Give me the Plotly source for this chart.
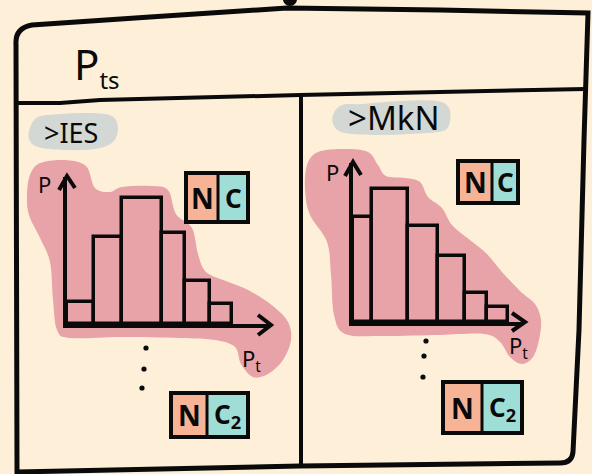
import plotly.graph_objects as go

# ---- data -------------------------------------------------------------
panel_names = [">IES", ">MkN"]
title_text = "P<sub><span style='font-size:24px'>ts</span></sub>"

# histogram bins (p_t) and heights (P) for each panel
bin_edges_ies = [0.0, 1.0, 2.05, 3.5, 4.35, 5.3, 6.1]
counts_ies = [1.1, 4.35, 6.3, 4.55, 2.15, 1.0]

bin_edges_mkn = [0.0, 0.7, 2.05, 3.15, 4.15, 4.95, 5.75]
counts_mkn = [5.25, 6.65, 4.8, 3.3, 1.45, 0.75]

box_top = ["N", "C"]
box_bottom = ["N", "C<sub>2</sub>"]

# ---- style ------------------------------------------------------------
W, H = 592, 474
CREAM = "#FEF0D8"
PINK = "#E8A3A9"
GREY = "#D3D8D5"
ORANGE = "#F6B395"
TEAL = "#9FDED6"
INK = "#0A0A0A"
FONT = "Noto Sans"


def smooth_path(pts):
    """Closed Catmull-Rom outline as an SVG cubic path."""
    n = len(pts)
    d = f"M{pts[0][0]},{pts[0][1]}"
    for i in range(n):
        p0, p1, p2, p3 = pts[(i - 1) % n], pts[i], pts[(i + 1) % n], pts[(i + 2) % n]
        c1 = (p1[0] + (p2[0] - p0[0]) / 6, p1[1] + (p2[1] - p0[1]) / 6)
        c2 = (p2[0] - (p3[0] - p1[0]) / 6, p2[1] - (p3[1] - p1[1]) / 6)
        d += f" C{c1[0]:.1f},{c1[1]:.1f} {c2[0]:.1f},{c2[1]:.1f} {p2[0]},{p2[1]}"
    return d + " Z"


def bars(edges, counts, xa, ya):
    centers = [(a + b) / 2 for a, b in zip(edges[:-1], edges[1:])]
    widths = [b - a for a, b in zip(edges[:-1], edges[1:])]
    return go.Bar(
        x=centers, y=counts, width=widths, base=0,
        marker=dict(color=PINK, line=dict(color=INK, width=3.5)),
        xaxis=xa, yaxis=ya, hoverinfo="skip", showlegend=False,
    )


fig = go.Figure()
# base sketch layer in pixel units
fig.add_trace(go.Scatter(x=[None], y=[None], xaxis="x", yaxis="y",
                         showlegend=False, hoverinfo="skip"))
fig.add_trace(bars(bin_edges_ies, counts_ies, "x2", "y2"))
fig.add_trace(bars(bin_edges_mkn, counts_mkn, "x3", "y3"))

hidden = dict(visible=False, fixedrange=True)
sub_axis = dict(showline=True, linecolor=INK, linewidth=4, showgrid=False,
                zeroline=False, showticklabels=False, ticks="", fixedrange=True)


def dom_x(a, b):
    return [a / W, b / W]


def dom_y(top, bottom):
    return [1 - bottom / H, 1 - top / H]


fig.update_layout(
    width=W, height=H, margin=dict(l=0, r=0, t=0, b=0),
    paper_bgcolor=CREAM, plot_bgcolor="rgba(0,0,0,0)",
    xaxis=dict(range=[0, W], domain=[0, 1], **hidden),
    yaxis=dict(range=[H, 0], domain=[0, 1], **hidden),
    xaxis2=dict(range=[0, 7.5], domain=dom_x(67, 270), anchor="y2", **sub_axis),
    yaxis2=dict(range=[0, 7.35], domain=dom_y(177, 324), anchor="x2", **sub_axis),
    xaxis3=dict(range=[0, 6.3], domain=dom_x(353, 523), anchor="y3", **sub_axis),
    yaxis3=dict(range=[0, 7.95], domain=dom_y(163, 322), anchor="x3", **sub_axis),
    bargap=0,
)

shapes = []


def px_shape(path, layer="above", fill=None, lw=0, color=INK):
    s = dict(type="path", path=path, xref="x", yref="y", layer=layer,
             line=dict(color=color, width=lw))
    s["fillcolor"] = fill if fill else "rgba(0,0,0,0)"
    if lw == 0:
        s["line"] = dict(width=0)
    return s


# pink halos behind the histograms
blob_ies = [(30, 175), (40, 163), (65, 160), (86, 166), (95, 188), (110, 192),
            (122, 187), (150, 186), (168, 190), (176, 214), (192, 228), (198, 254),
            (206, 272), (226, 281), (250, 291), (273, 306), (288, 322), (291, 340),
            (283, 360), (268, 374), (253, 377), (241, 364), (235, 347), (215, 340),
            (180, 338), (120, 337), (70, 338), (57, 330), (53, 300), (50, 262),
            (40, 238), (29, 215), (27, 195)]
blob_mkn = [(307, 165), (318, 152), (345, 149), (368, 152), (378, 165), (386, 176),
            (405, 178), (420, 182), (428, 197), (442, 208), (452, 225), (470, 240),
            (487, 254), (502, 272), (520, 291), (535, 304), (541, 320), (539, 340),
            (533, 357), (522, 364), (510, 357), (500, 342), (484, 334), (440, 335),
            (380, 336), (345, 334), (334, 315), (331, 275), (327, 242), (310, 215),
            (305, 190)]
shapes.append(px_shape(smooth_path(blob_ies), layer="below", fill=PINK))
shapes.append(px_shape(smooth_path(blob_mkn), layer="below", fill=PINK))

# grey tags behind panel names
pill_ies = [(30, 128), (38, 117), (60, 114), (90, 113), (112, 116), (118, 128),
            (113, 142), (95, 149), (65, 150), (38, 147), (29, 139)]
pill_mkn = [(333, 115), (342, 105), (362, 104), (400, 101), (437, 101), (449, 108),
            (450, 121), (443, 131), (410, 134), (377, 135), (345, 133), (334, 126)]
shapes.append(px_shape(smooth_path(pill_ies), fill=GREY))
shapes.append(px_shape(smooth_path(pill_mkn), fill=GREY))

# frame, header rule and panel divider
shapes.append(px_shape("M16,44 Q15,28 32,25 L150,17 L287,8 L440,10 L588,13 "
                       "L584,140 L579,330 L573,452 Q572,463 560,463 L300,466 L17,472 Z",
                       lw=5))
shapes.append(px_shape("M18,103 L60,103 L100,100 L300,95 L585,89", lw=4))
shapes.append(px_shape("M301,96 L301,466", lw=4))
# small knot on the top edge
shapes.append(dict(type="circle", xref="x", yref="y", x0=283, x1=297, y0=-7, y1=6,
                   fillcolor=INK, line=dict(width=0), layer="above"))

# arrow heads on the histogram axes
for p in ["M59,190 L67,176 L75,188", "M258,315 L271,325 L258,335",
          "M345,176 L353,162 L361,175", "M512,313 L525,322 L512,331"]:
    shapes.append(px_shape(p, lw=4))

# ellipsis dots between the rows of boxes
for cx, cy in [(146, 348), (144, 369), (142, 388), (426, 341), (424, 356), (423, 377)]:
    shapes.append(dict(type="circle", xref="x", yref="y", x0=cx - 2.6, x1=cx + 2.6,
                       y0=cy - 2.6, y1=cy + 2.6, fillcolor=INK, line=dict(width=0)))

annotations = []


def label(x, y, text, size, bold=False, xanchor="center"):
    annotations.append(dict(x=x, y=y, xref="x", yref="y", text=text, showarrow=False,
                            xanchor=xanchor, yanchor="middle",
                            font=dict(family=FONT, size=size, color=INK,
                                      weight="bold" if bold else "normal")))


def nc_box(x0, xm, x1, y0, y1, texts):
    shapes.append(dict(type="rect", xref="x", yref="y", x0=x0, x1=xm, y0=y0, y1=y1,
                       fillcolor=ORANGE, line=dict(width=0)))
    shapes.append(dict(type="rect", xref="x", yref="y", x0=xm, x1=x1, y0=y0, y1=y1,
                       fillcolor=TEAL, line=dict(width=0)))
    shapes.append(dict(type="rect", xref="x", yref="y", x0=x0, x1=x1, y0=y0, y1=y1,
                       fillcolor="rgba(0,0,0,0)", line=dict(color=INK, width=4)))
    shapes.append(px_shape(f"M{xm},{y0} L{xm},{y1}", lw=3))
    cy = (y0 + y1) / 2
    label((x0 + xm) / 2, cy, texts[0], 28, bold=True)
    label((xm + x1) / 2, cy, texts[1], 26, bold=True)


nc_box(186, 218, 248, 173, 222, box_top)
nc_box(458, 492, 518, 161, 203, box_top)
nc_box(171, 207, 248, 393, 437, box_bottom)
nc_box(443, 482, 522, 382, 433, box_bottom)

label(72, 65, title_text, 42, xanchor="left")
label(71, 132, panel_names[0], 27)
label(394, 117, panel_names[1], 33)
label(44, 184, "P", 22)
label(251, 360, "P<sub>t</sub>", 22)
label(332, 172, "P", 22)
label(518, 347, "P<sub>t</sub>", 22)

fig.update_layout(shapes=shapes, annotations=annotations)
fig.write_html("out.html")
